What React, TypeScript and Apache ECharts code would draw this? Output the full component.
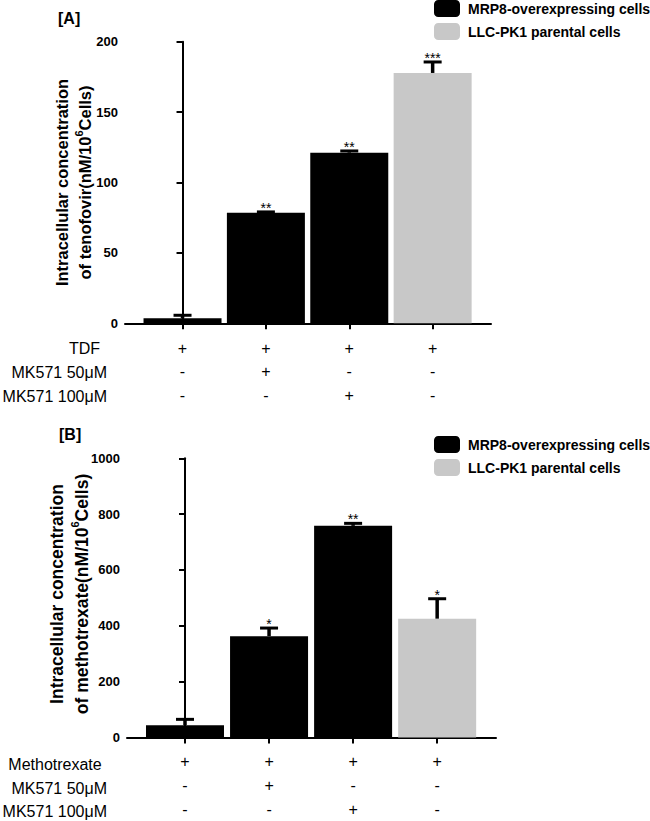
import React, { useEffect, useRef } from "react";
import * as echarts from "echarts";

const FONT = '"Liberation Sans", Arial, sans-serif';
const seriesNames = ["MRP8-overexpressing cells", "LLC-PK1 parental cells"];
const seriesColors = ["#000000", "#c8c8c8"];

// Panel A: tenofovir
const aGroupLine = [0, 0, 0, 1]; // index into seriesNames
const aValues = [3.5, 78.6, 121.2, 177.8];
const aErrors = [2.2, 0.5, 1.2, 7.8];
const aStars = ["", "**", "**", "***"];
const aYTicks = { min: 0, max: 200, interval: 50 };
const aRowLabels = ["TDF", "MK571 50\u03bcM", "MK571 100\u03bcM"];
const aRowSigns = [
  ["+", "+", "+", "+"],
  ["-", "+", "-", "-"],
  ["-", "-", "+", "-"],
];

// Panel B: methotrexate
const bGroupLine = [0, 0, 0, 1];
const bValues = [44, 363, 758, 425];
const bErrors = [21, 29, 9, 72];
const bStars = ["", "*", "**", "*"];
const bYTicks = { min: 0, max: 1000, interval: 200 };
const bRowLabels = ["Methotrexate", "MK571 50\u03bcM", "MK571 100\u03bcM"];
const bRowSigns = [
  ["+", "+", "+", "+"],
  ["-", "+", "-", "-"],
  ["-", "-", "+", "-"],
];

const groupIdx = [0, 1, 2, 3];

function barSeries(values: number[], lines: number[], line: number, axis: number) {
  return {
    type: "bar",
    name: seriesNames[line],
    xAxisIndex: axis,
    yAxisIndex: axis,
    barWidth: 78,
    barGap: "-100%",
    itemStyle: { color: seriesColors[line] },
    data: values
      .map((v, i) => (lines[i] === line ? [groupIdx[i], v] : null))
      .filter((d) => d !== null),
  };
}

function errSeries(values: number[], errors: number[], stars: string[], axis: number) {
  return {
    type: "custom",
    xAxisIndex: axis,
    yAxisIndex: axis,
    encode: { x: 0, y: 1 },
    data: values.map((v, i) => [groupIdx[i], v, v + errors[i]]),
    renderItem: (params: any, api: any) => {
      const x = api.value(0);
      const bottom = api.coord([x, api.value(1)]);
      const top = api.coord([x, api.value(2)]);
      const half = 9;
      const children: any[] = [
        {
          type: "line",
          shape: { x1: top[0], y1: bottom[1], x2: top[0], y2: top[1] },
          style: { stroke: "#000", lineWidth: 3.5 },
        },
        {
          type: "line",
          shape: { x1: top[0] - half, y1: top[1], x2: top[0] + half, y2: top[1] },
          style: { stroke: "#000", lineWidth: 3 },
        },
      ];
      const s = stars[params.dataIndex];
      if (s) {
        children.push({
          type: "text",
          x: top[0],
          y: top[1] - 4,
          style: {
            text: s,
            fill: "#000",
            font: `14px ${FONT}`,
            align: "center",
            verticalAlign: "middle",
          },
        });
      }
      return { type: "group", children };
    },
  };
}

function xAxis(grid: number, signs: string[][], margin: number, lh: number) {
  const custom = [...groupIdx];
  return {
    type: "value",
    gridIndex: grid,
    min: -0.69,
    max: 3.7,
    splitLine: { show: false },
    axisLine: { show: true, onZero: false, lineStyle: { color: "#000", width: 2 } },
    axisTick: { show: true, customValues: custom, length: 6, lineStyle: { color: "#000", width: 2 } },
    axisLabel: {
      show: true,
      customValues: custom,
      margin,
      color: "#000",
      fontSize: 16,
      lineHeight: lh,
      fontFamily: FONT,
      formatter: (v: number) => signs.map((r) => r[Math.round(v)]).join("\n"),
    },
  };
}

function yAxis(grid: number, t: { min: number; max: number; interval: number }) {
  return {
    type: "value",
    gridIndex: grid,
    min: t.min,
    max: t.max,
    interval: t.interval,
    splitLine: { show: false },
    axisLine: { show: true, lineStyle: { color: "#000", width: 2 } },
    axisTick: { show: true, length: 6, lineStyle: { color: "#000", width: 2 } },
    axisLabel: {
      color: "#000",
      fontSize: 13,
      fontWeight: "bold",
      fontFamily: FONT,
      margin: 7,
      formatter: (v: number) => String(v),
    },
  };
}

function legend(top: number) {
  return {
    orient: "vertical",
    left: 434,
    top,
    padding: 0,
    itemWidth: 26,
    itemHeight: 17,
    itemGap: 6,
    icon: "roundRect",
    selectedMode: false,
    data: seriesNames,
    textStyle: { color: "#000", fontSize: 14, fontWeight: "bold", fontFamily: FONT, padding: [0, 0, 0, 3] },
  };
}

function yTitle(cx: number, cy: number, size: number, lh: number, line1: string, line2a: string, line2b: string) {
  return {
    type: "text",
    x: cx,
    y: cy,
    rotation: Math.PI / 2,
    style: {
      text: `{t|${line1}}\n{t|${line2a}}{s|6}{t|${line2b}}`,
      align: "center",
      verticalAlign: "middle",
      rich: {
        t: { fontSize: size, fontWeight: "bold", fontFamily: FONT, lineHeight: lh, fill: "#000", color: "#000" },
        s: { fontSize: 11, fontWeight: "bold", fontFamily: FONT, lineHeight: lh - 4, verticalAlign: "top", fill: "#000", color: "#000" },
      },
    },
  };
}

function rowLabels(labels: string[], ys: number[], rights: number[]) {
  return labels.map((t, i) => ({
    type: "text",
    x: rights[i],
    y: ys[i],
    style: { text: t, font: `16px ${FONT}`, fill: "#000", align: "right", verticalAlign: "middle" },
  }));
}

export default function App() {
  const ref = useRef<HTMLDivElement>(null);
  useEffect(() => {
    if (!ref.current) return;
    const chart = echarts.init(ref.current, undefined, { renderer: "svg" });
    chart.setOption({
      animation: false,
      backgroundColor: "#fff",
      grid: [
        { left: 125, top: 41.7, width: 366, height: 281.6 },
        { left: 127, top: 458.3, width: 369, height: 282.4 },
      ],
      xAxis: [xAxis(0, aRowSigns, 13, 23.8), xAxis(1, bRowSigns, 11.5, 24)],
      yAxis: [yAxis(0, aYTicks), yAxis(1, bYTicks)],
      legend: [legend(0), legend(436)],
      series: [
        barSeries(aValues, aGroupLine, 0, 0),
        barSeries(aValues, aGroupLine, 1, 0),
        errSeries(aValues, aErrors, aStars, 0),
        barSeries(bValues, bGroupLine, 0, 1),
        barSeries(bValues, bGroupLine, 1, 1),
        errSeries(bValues, bErrors, bStars, 1),
      ],
      graphic: [
        { type: "text", x: 58, y: 18, style: { text: "[A]", font: `bold 16px ${FONT}`, fill: "#000", align: "left", verticalAlign: "middle" } },
        { type: "text", x: 59, y: 434, style: { text: "[B]", font: `bold 16px ${FONT}`, fill: "#000", align: "left", verticalAlign: "middle" } },
        yTitle(73.5, 182.5, 16.5, 23, "Intracellular concentration", "of tenofovir(nM/10", "Cells)"),
        yTitle(69.5, 594, 17.5, 25, "Intracellular concentration", "of methotrexate(nM/10", "Cells)"),
        ...rowLabels(aRowLabels, [348.3, 372, 396], [100, 107, 107]),
        ...rowLabels(bRowLabels, [764, 788.5, 811.7], [101.7, 107, 107]),
      ],
    });
    return () => chart.dispose();
  }, []);
  return <div ref={ref} style={{ position: "fixed", left: 0, top: 0, width: 650, height: 821 }} />;
}
